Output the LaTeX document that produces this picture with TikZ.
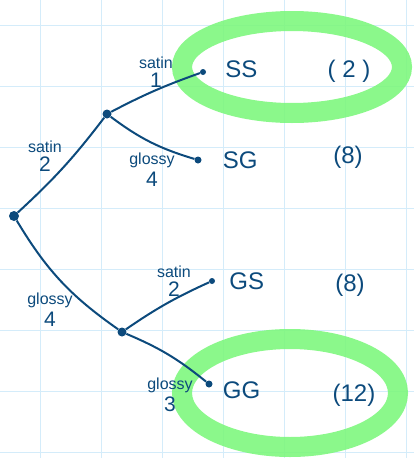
\documentclass[tikz,border=0pt]{standalone}
\usepackage{fontspec}
\setmainfont{Liberation Sans}
\usetikzlibrary{positioning}
\definecolor{ink}{RGB}{12,74,124}
\definecolor{hilite}{RGB}{126,247,126}
\definecolor{gridblue}{RGB}{212,236,250}
\tikzset{
  dot/.style={circle, fill=ink, inner sep=0pt, minimum size=7pt},
  br/.style={draw=ink, line width=2pt},
  lbl/.style={text=ink, font=\fontsize{16}{16}\selectfont, align=center, inner sep=0pt},
  leaf/.style={text=ink, font=\fontsize{24}{24}\selectfont, inner sep=0pt},
  cnt/.style={text=ink, font=\fontsize{24}{24}\selectfont, inner sep=0pt},
  hl/.style={draw=hilite, line width=20pt, opacity=0.9},
  gridln/.style={draw=gridblue, line width=1pt}
}
\newcommand{\num}[1]{\\[3pt]{\fontsize{21}{21}\selectfont #1}}

\begin{document}
\begin{tikzpicture}[x=1pt, y=-1pt]
  \useasboundingbox (0,0) rectangle (414,458);
  % squared paper
  \foreach \x in {40,101,...,406} \draw[gridln] (\x,0) -- (\x,458);
  \foreach \y in {25,86,...,452} \draw[gridln] (0,\y) -- (414,\y);
  % highlighter rings
  \draw[hl] (292,67) ellipse [x radius=110, y radius=46];
  \draw[hl] (290,393) ellipse [x radius=108, y radius=54];
  % tree
  \node[dot, minimum size=10pt] (root) at (14,216) {};
  \node[dot, minimum size=9pt] (s) at (107,114) {};
  \node[dot, minimum size=9pt] (g) at (122,332) {};
  \node[dot, minimum size=6pt] (ss) at (203,72) {};
  \node[dot] (sg) at (198,160) {};
  \node[dot, minimum size=6pt] (gs) at (212,281) {};
  \node[dot] (gg) at (209,384) {};
  \node[leaf, right=19pt of ss, yshift=3pt] (tss) {SS};
  \node[leaf, right=21pt of sg] (tsg) {SG};
  \node[leaf, right=14pt of gs] (tgs) {GS};
  \node[leaf, right=10pt of gg, yshift=-6pt] (tgg) {GG};
  \node[cnt] (nss) at (349,71) {( 2 )};
  \node[cnt] (nsg) at (348,157) {(8)};
  \node[cnt] (ngs) at (350,285) {(8)};
  \node[cnt] (ngg) at (354,395) {(12)};
  \node[lbl] (ls) at (45,156) {satin\num{2}};
  \node[lbl] (lg) at (50,310) {glossy\num{4}};
  \node[lbl] (lss) at (156,72) {satin\num{1}};
  \node[lbl] (lsg) at (152,170) {glossy\num{4}};
  \node[lbl] (lgs) at (174,281) {satin\num{2}};
  \node[lbl] (lgg) at (170,395) {glossy\num{3}};
  \draw[br] (root) to[bend right=5] (s); \draw[br] (root) to[bend right=12] (g);
  \draw[br] (s) to[bend left=4] (ss); \draw[br] (s) to[bend right=10] (sg);
  \draw[br] (g) to[bend left=5] (gs); \draw[br] (g) to[bend left=8] (gg);
\end{tikzpicture}
\end{document}
